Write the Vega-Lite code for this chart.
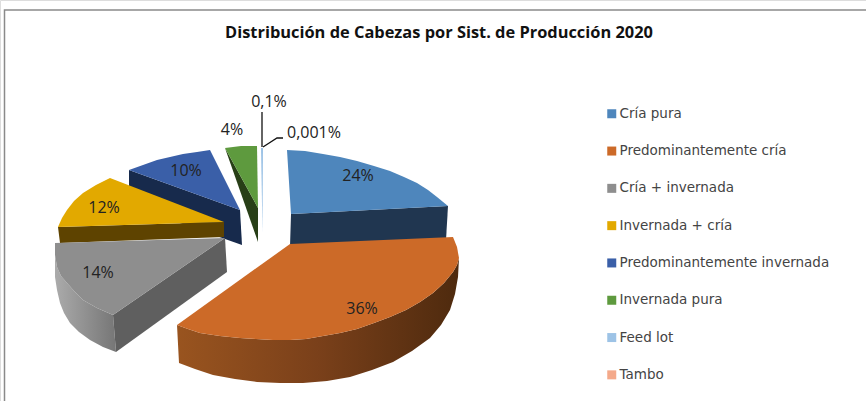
{"$schema":"https://vega.github.io/schema/vega-lite/v6.json","width":866,"height":401,"padding":0,"autosize":"none","background":"white",
"title":{"text":"Distribución de Cabezas por Sist. de Producción 2020","font":"Open Sans","fontSize":16.4,"fontWeight":"bold","color":"#111","anchor":"middle","dx":6,"offset":-41},
"datasets":{
"shapes":[
{"part":"azul_pared","o":1,"x":129,"y":170},{"part":"azul_pared","o":2,"x":240,"y":210},{"part":"azul_pared","o":3,"x":242,"y":245},{"part":"azul_pared","o":4,"x":129,"y":205},
{"part":"verde_pared","o":1,"x":225,"y":148},{"part":"verde_pared","o":2,"x":258,"y":208},{"part":"verde_pared","o":3,"x":258,"y":242},
{"part":"verde_sup","serie":"Invernada pura","o":1,"x":225,"y":148},{"part":"verde_sup","serie":"Invernada pura","o":2,"x":241,"y":146},{"part":"verde_sup","serie":"Invernada pura","o":3,"x":257,"y":146},{"part":"verde_sup","serie":"Invernada pura","o":4,"x":258,"y":208},
{"part":"feed_sup","serie":"Feed lot","o":1,"x":261,"y":148},{"part":"feed_sup","serie":"Feed lot","o":2,"x":263,"y":148},{"part":"feed_sup","serie":"Feed lot","o":3,"x":262.5,"y":233},
{"part":"tambo_sup","serie":"Tambo","o":1,"x":262,"y":148},
{"part":"pi_sup","serie":"Predominantemente invernada","o":1,"x":240,"y":210},{"part":"pi_sup","serie":"Predominantemente invernada","o":2,"x":129,"y":170},{"part":"pi_sup","serie":"Predominantemente invernada","o":3,"x":143,"y":165},{"part":"pi_sup","serie":"Predominantemente invernada","o":4,"x":157,"y":160},{"part":"pi_sup","serie":"Predominantemente invernada","o":5,"x":170,"y":157},{"part":"pi_sup","serie":"Predominantemente invernada","o":6,"x":183,"y":154},{"part":"pi_sup","serie":"Predominantemente invernada","o":7,"x":197,"y":152},{"part":"pi_sup","serie":"Predominantemente invernada","o":8,"x":210,"y":150},
{"part":"am_pared","o":1,"x":58,"y":227},{"part":"am_pared","o":2,"x":224,"y":222},{"part":"am_pared","o":3,"x":224,"y":237},{"part":"am_pared","o":4,"x":60,"y":243},
{"part":"am_sup","serie":"Invernada + cría","o":1,"x":224,"y":222},{"part":"am_sup","serie":"Invernada + cría","o":2,"x":58,"y":227},{"part":"am_sup","serie":"Invernada + cría","o":3,"x":62,"y":218},{"part":"am_sup","serie":"Invernada + cría","o":4,"x":67,"y":210},{"part":"am_sup","serie":"Invernada + cría","o":5,"x":74,"y":201},{"part":"am_sup","serie":"Invernada + cría","o":6,"x":83,"y":193},{"part":"am_sup","serie":"Invernada + cría","o":7,"x":96,"y":185},{"part":"am_sup","serie":"Invernada + cría","o":8,"x":110,"y":178},
{"part":"gr_ext","o":1,"x":55,"y":243},{"part":"gr_ext","o":2,"x":55,"y":255},{"part":"gr_ext","o":3,"x":57,"y":267},{"part":"gr_ext","o":4,"x":61,"y":276},{"part":"gr_ext","o":5,"x":67,"y":283},{"part":"gr_ext","o":6,"x":75,"y":292},{"part":"gr_ext","o":7,"x":83,"y":300},{"part":"gr_ext","o":8,"x":97,"y":308},{"part":"gr_ext","o":9,"x":113,"y":315},{"part":"gr_ext","o":10,"x":116,"y":352},{"part":"gr_ext","o":11,"x":103,"y":347},{"part":"gr_ext","o":12,"x":90,"y":340},{"part":"gr_ext","o":13,"x":79,"y":332},{"part":"gr_ext","o":14,"x":70,"y":323},{"part":"gr_ext","o":15,"x":64,"y":313},{"part":"gr_ext","o":16,"x":60,"y":303},{"part":"gr_ext","o":17,"x":57,"y":290},{"part":"gr_ext","o":18,"x":55,"y":277},
{"part":"gr_pared","o":1,"x":225,"y":238},{"part":"gr_pared","o":2,"x":113,"y":315},{"part":"gr_pared","o":3,"x":116,"y":352},{"part":"gr_pared","o":4,"x":227,"y":272},
{"part":"gr_sup","serie":"Cría + invernada","o":1,"x":225,"y":238},{"part":"gr_sup","serie":"Cría + invernada","o":2,"x":55,"y":243},{"part":"gr_sup","serie":"Cría + invernada","o":3,"x":55,"y":255},{"part":"gr_sup","serie":"Cría + invernada","o":4,"x":57,"y":267},{"part":"gr_sup","serie":"Cría + invernada","o":5,"x":61,"y":276},{"part":"gr_sup","serie":"Cría + invernada","o":6,"x":67,"y":283},{"part":"gr_sup","serie":"Cría + invernada","o":7,"x":75,"y":292},{"part":"gr_sup","serie":"Cría + invernada","o":8,"x":83,"y":300},{"part":"gr_sup","serie":"Cría + invernada","o":9,"x":97,"y":308},{"part":"gr_sup","serie":"Cría + invernada","o":10,"x":113,"y":315},
{"part":"cp_pared","o":1,"x":291,"y":214},{"part":"cp_pared","o":2,"x":448,"y":206},{"part":"cp_pared","o":3,"x":446,"y":240},{"part":"cp_pared","o":4,"x":290,"y":246},
{"part":"cp_sup","serie":"Cría pura","o":1,"x":291,"y":214},{"part":"cp_sup","serie":"Cría pura","o":2,"x":287,"y":150},{"part":"cp_sup","serie":"Cría pura","o":3,"x":305,"y":151},{"part":"cp_sup","serie":"Cría pura","o":4,"x":323,"y":154},{"part":"cp_sup","serie":"Cría pura","o":5,"x":340,"y":157},{"part":"cp_sup","serie":"Cría pura","o":6,"x":357,"y":161},{"part":"cp_sup","serie":"Cría pura","o":7,"x":374,"y":166},{"part":"cp_sup","serie":"Cría pura","o":8,"x":390,"y":171},{"part":"cp_sup","serie":"Cría pura","o":9,"x":404,"y":177},{"part":"cp_sup","serie":"Cría pura","o":10,"x":417,"y":183},{"part":"cp_sup","serie":"Cría pura","o":11,"x":428,"y":190},{"part":"cp_sup","serie":"Cría pura","o":12,"x":437,"y":197},{"part":"cp_sup","serie":"Cría pura","o":13,"x":448,"y":206},
{"part":"na_ext","o":1,"x":177,"y":325},{"part":"na_ext","o":2,"x":188,"y":329},{"part":"na_ext","o":3,"x":200,"y":333},{"part":"na_ext","o":4,"x":220,"y":336},{"part":"na_ext","o":5,"x":240,"y":338},{"part":"na_ext","o":6,"x":256,"y":339},{"part":"na_ext","o":7,"x":273,"y":340},{"part":"na_ext","o":8,"x":290,"y":340},{"part":"na_ext","o":9,"x":306,"y":339},{"part":"na_ext","o":10,"x":323,"y":336},{"part":"na_ext","o":11,"x":340,"y":333},{"part":"na_ext","o":12,"x":357,"y":329},{"part":"na_ext","o":13,"x":374,"y":323},{"part":"na_ext","o":14,"x":390,"y":317},{"part":"na_ext","o":15,"x":406,"y":310},{"part":"na_ext","o":16,"x":420,"y":302},{"part":"na_ext","o":17,"x":433,"y":293},{"part":"na_ext","o":18,"x":444,"y":283},{"part":"na_ext","o":19,"x":453,"y":272},{"part":"na_ext","o":20,"x":457,"y":265},{"part":"na_ext","o":21,"x":459,"y":258},{"part":"na_ext","o":22,"x":458,"y":277},{"part":"na_ext","o":23,"x":455,"y":294},{"part":"na_ext","o":24,"x":450,"y":310},{"part":"na_ext","o":25,"x":441,"y":325},{"part":"na_ext","o":26,"x":430,"y":338},{"part":"na_ext","o":27,"x":412,"y":351},{"part":"na_ext","o":28,"x":393,"y":362},{"part":"na_ext","o":29,"x":372,"y":370},{"part":"na_ext","o":30,"x":350,"y":377},{"part":"na_ext","o":31,"x":327,"y":381},{"part":"na_ext","o":32,"x":303,"y":383},{"part":"na_ext","o":33,"x":280,"y":383},{"part":"na_ext","o":34,"x":257,"y":382},{"part":"na_ext","o":35,"x":235,"y":379},{"part":"na_ext","o":36,"x":213,"y":375},{"part":"na_ext","o":37,"x":195,"y":369},{"part":"na_ext","o":38,"x":179,"y":363},
{"part":"na_sup","serie":"Predominantemente cría","o":1,"x":290,"y":244},{"part":"na_sup","serie":"Predominantemente cría","o":2,"x":453,"y":237},{"part":"na_sup","serie":"Predominantemente cría","o":3,"x":457,"y":247},{"part":"na_sup","serie":"Predominantemente cría","o":4,"x":459,"y":258},{"part":"na_sup","serie":"Predominantemente cría","o":5,"x":457,"y":265},{"part":"na_sup","serie":"Predominantemente cría","o":6,"x":453,"y":272},{"part":"na_sup","serie":"Predominantemente cría","o":7,"x":444,"y":283},{"part":"na_sup","serie":"Predominantemente cría","o":8,"x":433,"y":293},{"part":"na_sup","serie":"Predominantemente cría","o":9,"x":420,"y":302},{"part":"na_sup","serie":"Predominantemente cría","o":10,"x":406,"y":310},{"part":"na_sup","serie":"Predominantemente cría","o":11,"x":390,"y":317},{"part":"na_sup","serie":"Predominantemente cría","o":12,"x":374,"y":323},{"part":"na_sup","serie":"Predominantemente cría","o":13,"x":357,"y":329},{"part":"na_sup","serie":"Predominantemente cría","o":14,"x":340,"y":333},{"part":"na_sup","serie":"Predominantemente cría","o":15,"x":323,"y":336},{"part":"na_sup","serie":"Predominantemente cría","o":16,"x":306,"y":339},{"part":"na_sup","serie":"Predominantemente cría","o":17,"x":290,"y":340},{"part":"na_sup","serie":"Predominantemente cría","o":18,"x":273,"y":340},{"part":"na_sup","serie":"Predominantemente cría","o":19,"x":256,"y":339},{"part":"na_sup","serie":"Predominantemente cría","o":20,"x":240,"y":338},{"part":"na_sup","serie":"Predominantemente cría","o":21,"x":220,"y":336},{"part":"na_sup","serie":"Predominantemente cría","o":22,"x":200,"y":333},{"part":"na_sup","serie":"Predominantemente cría","o":23,"x":188,"y":329},{"part":"na_sup","serie":"Predominantemente cría","o":24,"x":177,"y":325},
{"part":"marco","o":1,"x":866,"y":10},{"part":"marco","o":2,"x":4.5,"y":10},{"part":"marco","o":3,"x":4.5,"y":401},
{"part":"guia1","o":1,"x":262,"y":112},{"part":"guia1","o":2,"x":262,"y":147},
{"part":"guia2","o":1,"x":263,"y":147},{"part":"guia2","o":2,"x":277,"y":138},{"part":"guia2","o":3,"x":283,"y":138}
],
"etiquetas":[
{"t":"24%","x":358,"y":176},{"t":"36%","x":362,"y":309},{"t":"14%","x":98,"y":273},{"t":"12%","x":104,"y":208},{"t":"10%","x":186,"y":171},{"t":"4%","x":232,"y":130},{"t":"0,1%","x":269,"y":102},{"t":"0,001%","x":314,"y":133}
]},
"data":{"name":"shapes"},
"encoding":{
"x":{"field":"x","type":"quantitative","axis":null,"scale":{"domain":[0,866],"nice":false,"zero":false}},
"y":{"field":"y","type":"quantitative","axis":null,"scale":{"domain":[401,0],"nice":false,"zero":false}},
"order":{"field":"o","type":"quantitative"}
},
"layer":[
{"transform":[{"filter":"datum.part=='marco'"}],"mark":{"type":"line","stroke":"#8a8a8a","strokeWidth":1.5}},
{"transform":[{"filter":"datum.part=='azul_pared'"}],"mark":{"type":"line","filled":true,"fill":"#172A4C","strokeWidth":0}},
{"transform":[{"filter":"datum.part=='verde_pared'"}],"mark":{"type":"line","filled":true,"fill":"#283F17","strokeWidth":0}},
{"transform":[{"filter":"datum.part=='am_pared'"}],"mark":{"type":"line","filled":true,"fill":"#5E4300","strokeWidth":0}},
{"transform":[{"filter":"datum.part=='gr_ext'"}],"mark":{"type":"line","filled":true,"strokeWidth":0,"fill":{"gradient":"linear","x1":0,"y1":0,"x2":1,"y2":0,"stops":[{"offset":0,"color":"#ABABAB"},{"offset":1,"color":"#767676"}]}}},
{"transform":[{"filter":"datum.part=='gr_pared'"}],"mark":{"type":"line","filled":true,"fill":"#5F5F5F","strokeWidth":0}},
{"transform":[{"filter":"datum.part=='cp_pared'"}],"mark":{"type":"line","filled":true,"fill":"#203650","strokeWidth":0}},
{"transform":[{"filter":"datum.part=='na_ext'"}],"mark":{"type":"line","filled":true,"strokeWidth":0,"fill":{"gradient":"linear","x1":0,"y1":0,"x2":1,"y2":0,"stops":[{"offset":0,"color":"#99541F"},{"offset":0.5,"color":"#7A401A"},{"offset":1,"color":"#4E2A0E"}]}}},
{"transform":[{"filter":"isValid(datum.serie)"}],"mark":{"type":"line","filled":true,"strokeWidth":0},
"encoding":{"fill":{"field":"serie","type":"nominal","sort":null,"scale":{"domain":["Cría pura","Predominantemente cría","Cría + invernada","Invernada + cría","Predominantemente invernada","Invernada pura","Feed lot","Tambo"],"range":["#4E86BC","#CC6A28","#8E8E8E","#E2A900","#3A5FA8","#5E9A3E","#9DC3E6","#F4A98A"]},
"legend":{"orient":"none","legendX":605,"legendY":107,"title":null,"symbolType":"square","symbolSize":81,"symbolStrokeWidth":0,"labelFont":"DejaVu Sans","labelFontSize":13.5,"labelColor":"#444","labelLimit":300,"rowPadding":22.3,"labelOffset":1}}}},
{"transform":[{"filter":"datum.part=='guia1'"}],"mark":{"type":"line","stroke":"#111","strokeWidth":1.3}},
{"transform":[{"filter":"datum.part=='guia2'"}],"mark":{"type":"line","stroke":"#111","strokeWidth":1.3}},
{"data":{"name":"etiquetas"},"mark":{"type":"text","font":"Open Sans","fontSize":16,"color":"#222","align":"center","baseline":"middle"},"encoding":{"text":{"field":"t","type":"nominal"},"order":{"value":null}}}
]}
